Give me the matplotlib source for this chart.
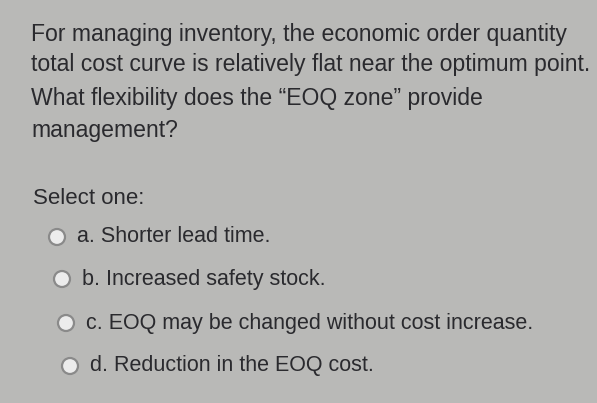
import matplotlib
matplotlib.use("Agg")
import matplotlib.pyplot as plt
from matplotlib.patches import Circle

question = ["For managing inventory, the economic order quantity",
            "total cost curve is relatively flat near the optimum point.",
            "What flexibility does the \u201cEOQ zone\u201d provide",
            "management?"]
question_y = [35, 65, 99, 130]
prompt = "Select one:"
options = ["a. Shorter lead time.",
           "b. Increased safety stock.",
           "c. EOQ may be changed without cost increase.",
           "d. Reduction in the EOQ cost."]
option_y = [237, 279, 323, 366]
circle_x = [57, 62, 66, 70]

fig = plt.figure(figsize=(5.97, 4.03), dpi=100)
fig.patch.set_facecolor("#b9b9b7")
ax = fig.add_axes([0, 0, 1, 1])
ax.set_xlim(0, 597); ax.set_ylim(403, 0); ax.axis("off")

fnt = dict(family="Liberation Sans", color="#2a2a2e", va="center")
for txt, y in zip(question, question_y):
    ax.text(31, y, txt, fontsize=16.6, **fnt)
ax.text(33, 198, prompt, fontsize=16, **fnt)
for txt, y, cx in zip(options, option_y, circle_x):
    ax.add_patch(Circle((cx, y), 8, fc="#ececec", ec="#8a8a8a", lw=1.6))
    ax.text(cx + 20, y, txt, fontsize=15.5, **fnt)

plt.savefig("out.png", dpi=100, facecolor=fig.get_facecolor())
